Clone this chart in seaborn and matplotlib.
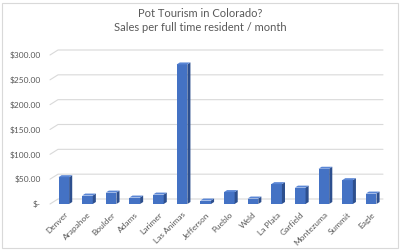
import matplotlib
matplotlib.use("Agg")
import matplotlib.pyplot as plt
import matplotlib.transforms as mtransforms
import seaborn as sns
import pandas as pd
from matplotlib.patches import Polygon, Rectangle
from matplotlib.ticker import FuncFormatter

counties = ["Denver", "Arapahoe", "Boulder", "Adams", "Larimer", "Las Animas",
            "Jefferson", "Pueblo", "Weld", "La Plata", "Garfield", "Montezuma",
            "Summit", "Eagle"]
sales = [54, 17, 23, 13, 19, 281, 7, 24, 11, 40, 33, 71, 48, 21]
yticks = [0, 50, 100, 150, 200, 250, 300]

sns.set_theme(style="white")
plt.rcParams['font.family'] = ['Lato', 'DejaVu Sans']

df = pd.DataFrame({"county": counties, "sales": sales})

W, H = 400, 250
fig = plt.figure(figsize=(4, 2.5), dpi=100)
pxpd = 149 / 300.0  # pixels per dollar
ymax = 312
ax = fig.add_axes([52 / W, 46 / H, (383 - 52) / W, ymax * pxpd / H])

sns.barplot(data=df, x="county", y="sales", color="#4472C4", width=0.45,
            saturation=1, ax=ax, zorder=3)

# 3D-style depth on each bar, derived from the bar patches
dx, dy = 0.13, 4.0
for p in list(ax.patches):
    x0, w, h = p.get_x(), p.get_width(), p.get_height()
    p.set_edgecolor("none")
    side = Polygon([(x0 + w, 0), (x0 + w + dx, dy), (x0 + w + dx, h + dy), (x0 + w, h)],
                   closed=True, facecolor="#2D4F8E", edgecolor="none", zorder=3)
    top = Polygon([(x0, h), (x0 + dx, h + dy), (x0 + w + dx, h + dy), (x0 + w, h)],
                  closed=True, facecolor="#5A86D5", edgecolor="none", zorder=3)
    ax.add_patch(side)
    ax.add_patch(top)

ax.set_ylim(0, ymax)
ax.set_xlim(-0.5, len(counties) - 0.5)
ax.set_yticks(yticks)
ax.yaxis.set_major_formatter(FuncFormatter(lambda v, _: "$-" if v == 0 else f"${v:,.2f}"))
ax.grid(False)

# perspective gridlines: floor diagonal then back-wall horizontal
trans = mtransforms.blended_transform_factory(ax.transAxes, ax.transData)
axw = 383 - 52
xa, xb = (50 - 52) / axw, (58 - 52) / axw
back = 5 / pxpd
for v in yticks:
    ax.plot([xa, xb, 1.0], [v, v + back, v + back], transform=trans, color="#D9D9D9",
            linewidth=0.8, clip_on=False, zorder=0)

for s in ax.spines.values():
    s.set_visible(False)
ax.set_xlabel("")
ax.set_ylabel("")
ax.tick_params(axis="y", labelsize=6, colors="#595959", length=0, pad=8)
ax.tick_params(axis="x", labelsize=6, colors="#595959", length=0, pad=5)
for lbl in ax.get_xticklabels():
    lbl.set_rotation(45)
    lbl.set_ha("right")
    lbl.set_rotation_mode("anchor")

fig.text(0.5, 0.968, "Pot Tourism in Colorado?\nSales per full time resident / month",
         ha="center", va="top", fontsize=8, color="#595959", linespacing=1.35)

fig.patches.append(Rectangle((0.005, 0.01), 0.99, 0.98, transform=fig.transFigure,
                             fill=False, edgecolor="#D9D9D9", linewidth=0.8))

fig.savefig("out.png", dpi=100, facecolor="white")
